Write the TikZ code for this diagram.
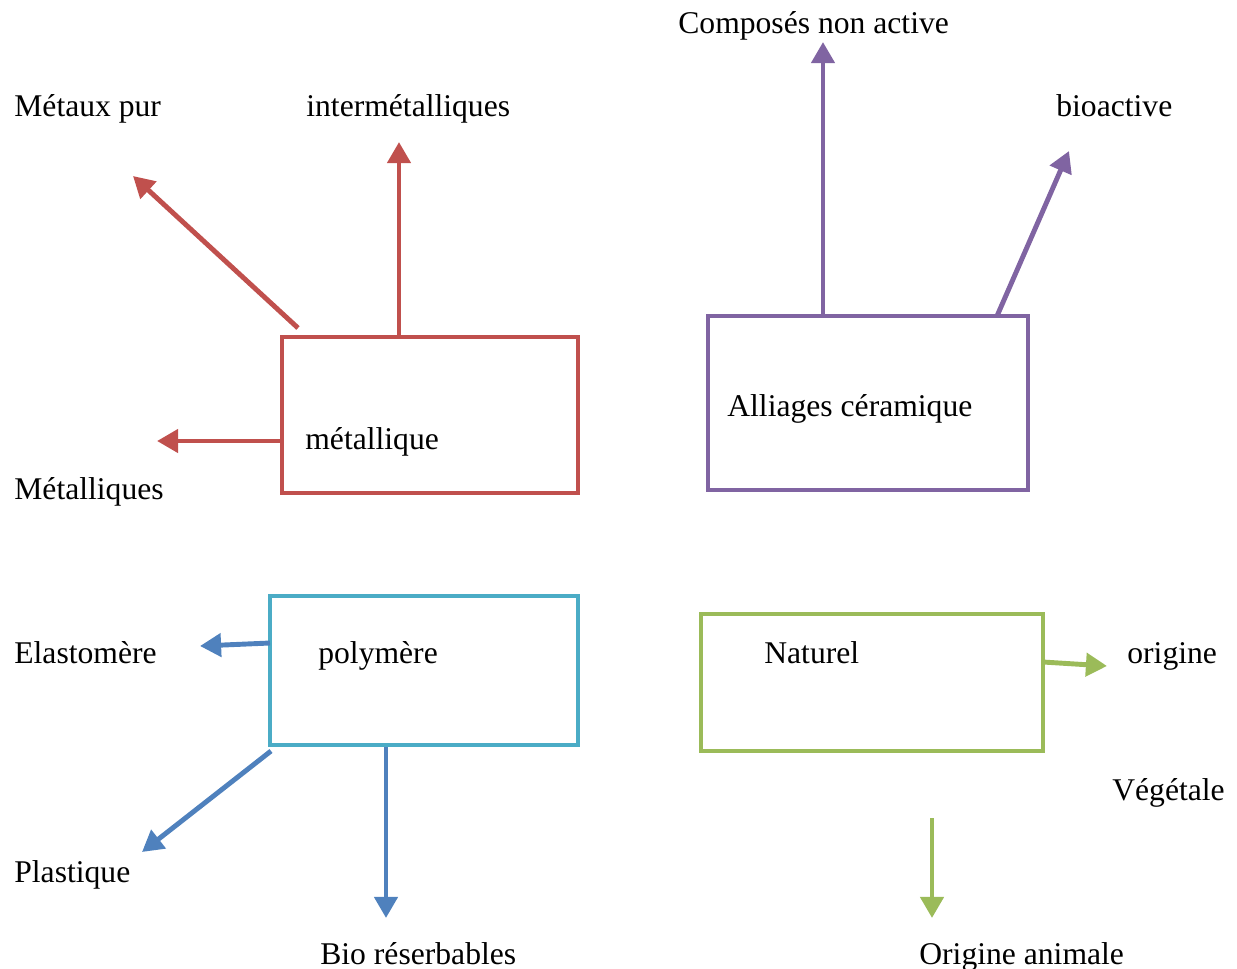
\documentclass[tikz,border=0pt]{standalone}
\usepackage{fontspec}
\setmainfont{Liberation Serif}
\usepackage{tikz}
\usetikzlibrary{arrows.meta}
\usetikzlibrary{positioning}
\definecolor{rouge}{RGB}{192,80,77}
\definecolor{mauve}{RGB}{128,100,162}
\definecolor{turquoise}{RGB}{75,172,198}
\definecolor{bleu}{RGB}{79,129,189}
\definecolor{vert}{RGB}{155,187,89}
\tikzset{
  schema/.style={
    x=0.02cm, y=-0.02cm,
    boite/.style={rectangle, draw, line width=2.8pt, inner sep=0pt},
    etiquette/.style={anchor=base west, inner sep=0pt, font={\fontsize{18}{21}\selectfont}},
    fleche/.style={line width=2.8pt, -{Triangle[length=12pt,width=13pt]}},
  }
}
\begin{document}
\begin{tikzpicture}[schema]
    \useasboundingbox (0,0) rectangle (1237,968);

    % les quatre familles
    \node[boite, draw=rouge, minimum width=296*0.02cm, minimum height=156*0.02cm] (met) at (430,415) {};
    \node[boite, draw=mauve, minimum width=320*0.02cm, minimum height=174*0.02cm] (cer) at (868,403) {};
    \node[boite, draw=turquoise, minimum width=308*0.02cm, minimum height=149*0.02cm] (pol) at (424,670.5) {};
    \node[boite, draw=vert, minimum width=342*0.02cm, minimum height=137*0.02cm] (nat) at (872,682.5) {};

    % textes
    \node[etiquette] (tmet) at (305,449) {métallique};
    \node[etiquette] (tcer) at (727,416) {Alliages céramique};
    \node[etiquette] (tpol) at (318,663) {polymère};
    \node[etiquette] (tnat) at (764,663) {Naturel};

    \node[etiquette] (pur) at (14,116) {Métaux pur};
    \node[etiquette] (inter) at (306,116) {intermétalliques};
    \node[etiquette] (metq) at (14,499) {Métalliques};
    \node[etiquette] (comp) at (678,33) {Composés non active};
    \node[etiquette] (bio) at (1056,116) {bioactive};
    \node[etiquette] (elas) at (14,663) {Elastomère};
    \node[etiquette] (plas) at (14,882) {Plastique};
    \node[etiquette] (res) at (320,964) {Bio réserbables};
    \node[etiquette] (orig) at (1127,663) {origine};
    \node[etiquette] (veg) at (1112,800) {Végétale};
    \node[etiquette] (anim) at (919,964) {Origine animale};

    % bouts des fleches
    \coordinate (dpur) at (298,328);   \coordinate (fpur) at (133,176);
    \coordinate (fint) at (399,142);
    \coordinate (fmetq) at (157,441);
    \coordinate (fcomp) at (823,42);
    \coordinate (dbio) at (997,316);   \coordinate (fbio) at (1069,151);
    \coordinate (delas) at (270,643);  \coordinate (felas) at (200,646);
    \coordinate (dplas) at (271,751);  \coordinate (fplas) at (142,852);
    \coordinate (fres) at (386,918);
    \coordinate (dorig) at (1043,662); \coordinate (forig) at (1107,666);
    \coordinate (danim) at (932,818);  \coordinate (fanim) at (932,918);

    \draw[fleche, rouge] (dpur) -- (fpur);
    \draw[fleche, rouge] (met.north -| fint) -- (fint);
    \draw[fleche, rouge] (met.west |- fmetq) -- (fmetq);
    \draw[fleche, mauve] (cer.north -| fcomp) -- (fcomp);
    \draw[fleche, mauve] (dbio) -- (fbio);
    \draw[fleche, bleu] (delas) -- (felas);
    \draw[fleche, bleu] (dplas) -- (fplas);
    \draw[fleche, bleu] (pol.south -| fres) -- (fres);
    \draw[fleche, vert] (dorig) -- (forig);
    \draw[fleche, vert] (danim) -- (fanim);
\end{tikzpicture}
\end{document}
